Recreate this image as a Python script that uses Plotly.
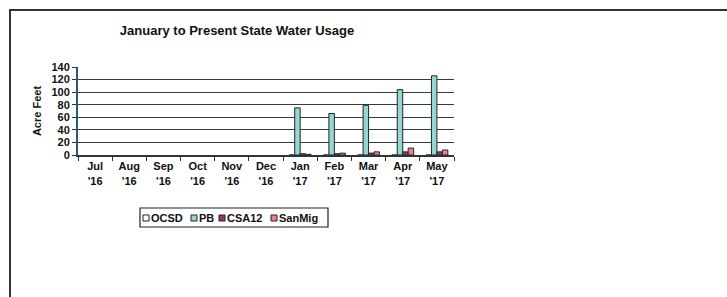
import plotly.graph_objects as go

months = ["Jul<br>'16", "Aug<br>'16", "Sep<br>'16", "Oct<br>'16", "Nov<br>'16", "Dec<br>'16",
          "Jan<br>'17", "Feb<br>'17", "Mar<br>'17", "Apr<br>'17", "May<br>'17"]
ocsd = [None, None, None, None, None, None, 0, 0, 0, 0, 0]
pb = [None, None, None, None, None, None, 75, 66, 79, 104, 126]
csa12 = [None, None, None, None, None, None, 2, 2, 3, 5, 5]
sanmig = [None, None, None, None, None, None, 1, 3, 5, 11, 8]

series = [("OCSD", ocsd, "#ffffff"), ("PB", pb, "#99d4d4"),
          ("CSA12", csa12, "#993366"), ("SanMig", sanmig, "#f08090")]

W, H = 727, 297
L, R, T, B = 78, 454, 67, 155


def px(x):
    return (x - L) / (R - L)


def py(y):
    return (B - y) / (B - T)


fig = go.Figure()
for name, vals, col in series:
    fig.add_trace(go.Bar(x=months, y=vals, name=name, marker_color=col, showlegend=False,
                         marker_line=dict(color="#1a2a2a", width=1)))

fig.update_layout(
    width=W, height=H,
    margin=dict(l=L, r=W - R, t=T, b=H - B, autoexpand=False),
    paper_bgcolor="white", plot_bgcolor="white",
    font=dict(family="Liberation Sans, Arial", color="#111", size=10),
    title=dict(text="<b>January to Present State Water Usage</b>", x=237 / W, xanchor="center",
               y=1 - 30 / H, yanchor="middle", yref="container",
               font=dict(size=13, color="#111")),
    barmode="group", bargap=0.36, bargroupgap=0,
)
fig.update_xaxes(showline=True, linecolor="#333", linewidth=2, ticks="outside",
                 tickson="boundaries", ticklen=4, tickcolor="#333", automargin=False,
                 tickfont=dict(size=11, family="Liberation Sans, Arial", color="#111"),
                 tickprefix="<b>", ticksuffix="</b>")
fig.update_yaxes(range=[0, 140], dtick=20, showline=True, linecolor="#2a5a6a", linewidth=2,
                 gridcolor="#3a3a3a", gridwidth=1.4, ticks="outside", ticklen=4, tickcolor="#333",
                 tickprefix="<b>", ticksuffix="</b>", automargin=False,
                 tickfont=dict(size=11),
                 title=dict(text="<b>Acre Feet</b>", font=dict(size=11), standoff=8),
                 zeroline=False)
# outer frame
fig.add_shape(type="rect", xref="paper", yref="paper",
              x0=px(10), x1=px(740), y0=py(310), y1=py(10),
              line=dict(color="#333", width=2), layer="below")

# legend box
fig.add_shape(type="rect", xref="paper", yref="paper",
              x0=px(140), x1=px(328), y0=py(227), y1=py(208),
              line=dict(color="#222", width=1.2), fillcolor="white")
swatch_x = [143, 191, 219, 271]
for (name, _, col), sx in zip(series, swatch_x):
    fig.add_shape(type="rect", xref="paper", yref="paper",
                  x0=px(sx), x1=px(sx + 6), y0=py(221), y1=py(215),
                  line=dict(color="#222", width=1), fillcolor=col)
    fig.add_annotation(xref="paper", yref="paper", x=px(sx + 6), y=py(218),
                       text="<b>" + name + "</b>", showarrow=False, xanchor="left",
                       yanchor="middle", font=dict(size=11, color="#111"))
fig.write_html("out.html", config={"displayModeBar": False},
               post_script="document.body.style.margin='0px';")
